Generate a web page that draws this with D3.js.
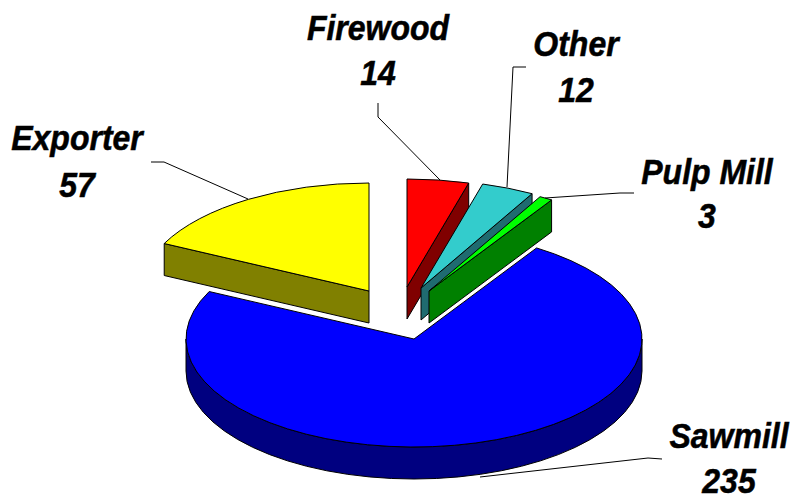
<!DOCTYPE html>
<html>
<head>
<meta charset="utf-8">
<script src="https://cdn.jsdelivr.net/npm/d3@7"></script>
<style>
  html, body { margin: 0; padding: 0; background: #fff; }
  text { font-family: "Liberation Sans", Arial, sans-serif; font-weight: bold; font-style: italic; font-size: 32px; fill: #000; stroke: #000; stroke-width: 0.5px; }
</style>
</head>
<body>
<div id="chart"></div>
<script>
// Data, clockwise from 12 o'clock
const categories = ["Firewood", "Other", "Pulp Mill", "Sawmill", "Exporter"];
const values = [14, 12, 3, 235, 57];

// Colours of the top faces and the darker side walls
const topColors = ["#ff0000", "#33cccc", "#00ff00", "#0000ff", "#ffff00"];
const sideColors = ["#800000", "#1f6b70", "#008000", "#000080", "#808000"];

const width = 794, height = 497;
const rx = 228, ry = 108, depth = 32;

// Where each exploded slice has its apex
const apexX = [407, 421, 429, 414, 369];
const apexY = [287, 288, 291, 339, 291];

// Label text anchors, first line / second line baselines
const labelX = [378, 576, 707, 729, 77];
const labelY = [40, 56, 184, 448, 150];
const labelGap = [45, 46, 44, 45, 47];
const textStretch = 1.1; // the labels are a bit taller than the plain font

// Leader lines
const leaders = [
  [[378, 103], [378, 117], [440, 180]],
  [[526, 67], [513, 67], [507, 187]],
  [[634, 193], [620, 193], [545, 198]],
  [[662, 459], [648, 458], [480, 477]],
  [[151, 162], [164, 162], [248, 199]]
];

const svg = d3.select("#chart")
  .append("svg")
    .attr("width", width)
    .attr("height", height)
    .style("display", "block");

const pie = d3.pie().sort(null).value(d => d)(values);

const color = d3.scaleOrdinal().domain(categories).range(topColors);
const sideColor = d3.scaleOrdinal().domain(categories).range(sideColors);

const arc = d3.arc().innerRadius(0).outerRadius(rx);

// point on the rim of the ellipse, relative to the apex
const px = a => rx * Math.sin(a);
const py = a => -ry * Math.cos(a);

// Side wall along a cut edge
function cutWall(a) {
  return `M0,0L${px(a)},${py(a)}l0,${depth}L0,${depth}Z`;
}

// Outer wall, only the part facing the viewer
function rimWall(a0, a1) {
  const s = Math.max(a0, Math.PI / 2), e = Math.min(a1, Math.PI * 1.5);
  if (e <= s) return null;
  const large = e - s > Math.PI ? 1 : 0;
  return `M${px(s)},${py(s)}A${rx},${ry} 0 ${large} 1 ${px(e)},${py(e)}` +
    `l0,${depth}A${rx},${ry} 0 ${large} 0 ${px(s)},${py(s) + depth}Z`;
}

// Back slices first
const drawOrder = [4, 0, 1, 2, 3];

const slices = svg.selectAll("g.slice")
  .data(drawOrder.map(i => ({ i, d: pie[i], name: categories[i] })))
  .join("g")
    .attr("class", "slice")
    .attr("transform", s => `translate(${apexX[s.i]},${apexY[s.i]})`)
    .attr("stroke", "#000")
    .attr("stroke-width", 1)
    .attr("stroke-linejoin", "round");

slices.each(function(s) {
  const g = d3.select(this);
  const walls = [];
  if (Math.sin(s.d.startAngle) < -1e-6) walls.push(cutWall(s.d.startAngle));
  if (Math.sin(s.d.endAngle) > 1e-6) walls.push(cutWall(s.d.endAngle));
  const rim = rimWall(s.d.startAngle, s.d.endAngle);
  if (rim) walls.push(rim);
  walls.forEach(w => g.append("path").attr("d", w).attr("fill", sideColor(s.name)));
  g.append("path")
    .attr("d", arc(s.d))
    .attr("transform", `scale(1,${ry / rx})`)
    .attr("vector-effect", "non-scaling-stroke")
    .attr("fill", color(s.name));
});

// Leader lines
svg.selectAll("path.leader")
  .data(leaders)
  .join("path")
    .attr("class", "leader")
    .attr("d", d3.line())
    .attr("fill", "none")
    .attr("stroke", "#000")
    .attr("stroke-width", 1);

// Labels
const labels = svg.selectAll("g.label")
  .data(categories)
  .join("g")
    .attr("class", "label")
    .attr("text-anchor", "middle");

labels.append("text")
  .attr("transform", (d, i) => `translate(${labelX[i]},${labelY[i]}) scale(1,${textStretch})`)
  .text(d => d);

labels.append("text")
  .attr("transform", (d, i) => `translate(${labelX[i]},${labelY[i] + labelGap[i]}) scale(1,${textStretch})`)
  .text((d, i) => values[i]);
</script>
</body>
</html>
